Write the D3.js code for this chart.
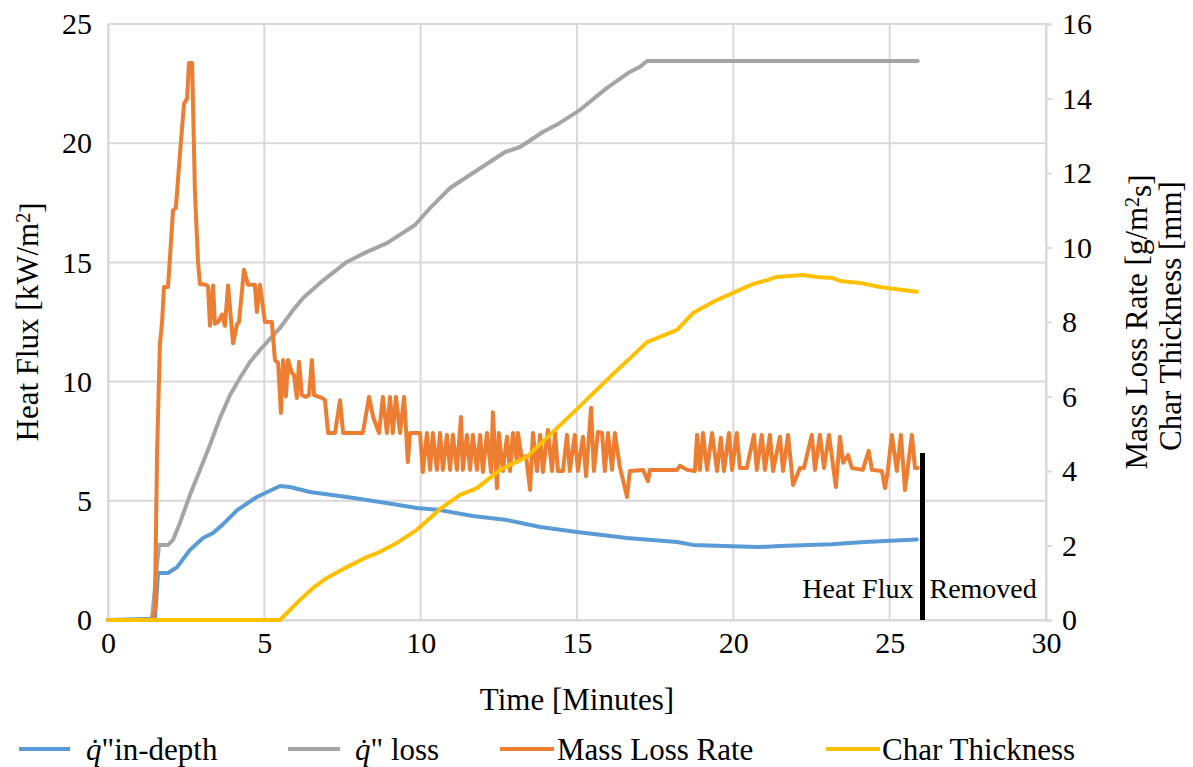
<!DOCTYPE html>
<html>
<head>
<meta charset="utf-8">
<script src="https://cdn.jsdelivr.net/npm/d3@7"></script>
<style>
  body { margin: 0; background: #fff; }
  text { font-family: "Liberation Serif", "Times New Roman", serif; fill: #000; }
</style>
</head>
<body>
<svg id="chart" width="1193" height="767"></svg>
<script>
// Axis ticks
const timeTicks = [0, 5, 10, 15, 20, 25, 30];
const fluxTicks = [0, 5, 10, 15, 20, 25];
const rateTicks = [0, 2, 4, 6, 8, 10, 12, 14, 16];

// Series: [time (min), value]
// In-depth heat flux, kW/m2 (left axis)
const inDepthFlux = [
  [0, 0], [1.50, 0.05], [1.60, 1.97], [1.92, 1.97], [2.21, 2.22], [2.62, 2.94], [3.04, 3.44],
  [3.36, 3.65], [3.65, 3.98], [4.13, 4.61], [4.76, 5.16], [5.50, 5.62], [5.82, 5.58],
  [6.46, 5.37], [7.64, 5.16], [8.70, 4.95], [9.88, 4.70], [10.62, 4.61], [11.67, 4.36],
  [12.76, 4.19], [13.82, 3.90], [15.00, 3.69], [16.60, 3.44], [18.20, 3.27], [18.71, 3.15],
  [20.21, 3.08], [20.80, 3.06], [21.49, 3.10], [23.13, 3.18], [24.20, 3.27], [25.87, 3.38]
];
// Heat flux lost, kW/m2 (left axis)
const lossFlux = [
  [0, 0], [1.40, 0], [1.44, 0.5], [1.63, 3.15], [1.92, 3.15], [2.08, 3.36], [2.30, 4.07],
  [2.62, 5.24], [2.94, 6.29], [3.26, 7.34], [3.58, 8.47], [3.90, 9.43], [4.22, 10.15],
  [4.54, 10.82], [4.86, 11.33], [5.50, 12.25], [5.92, 13.0], [6.24, 13.51], [6.78, 14.14],
  [7.64, 15.02], [8.28, 15.44], [8.92, 15.81], [9.82, 16.57], [10.30, 17.28], [10.94, 18.12],
  [11.67, 18.75], [12.70, 19.63], [13.18, 19.84], [13.91, 20.47], [14.45, 20.85],
  [15.09, 21.39], [15.96, 22.32], [16.69, 22.99], [17.01, 23.20], [17.24, 23.45], [25.90, 23.45]
];
// Mass loss rate, g/m2s (right axis)
const massLossRate = [
  [0, 0], [1.41, 0], [1.50, 0.3], [1.57, 4.5], [1.66, 7.4], [1.73, 8.0], [1.79, 8.94], [1.92, 8.94],
  [2.08, 11.0], [2.17, 11.06], [2.30, 12.5], [2.43, 13.85], [2.53, 14.0], [2.59, 14.95], [2.69, 14.95],
  [2.78, 11.5], [2.88, 9.6], [2.94, 9.02], [3.13, 9.0], [3.20, 8.95], [3.26, 7.9], [3.36, 8.98],
  [3.42, 7.95], [3.52, 8.0], [3.65, 8.2], [3.74, 7.9], [3.84, 8.98], [4.00, 7.43], [4.13, 7.95],
  [4.19, 8.0], [4.35, 9.4], [4.48, 9.0], [4.70, 9.0], [4.76, 8.27], [4.86, 9.0], [5.02, 8.0],
  [5.24, 8.0], [5.34, 6.98], [5.44, 6.9], [5.53, 5.56], [5.60, 6.98], [5.69, 6.0], [5.76, 6.98],
  [5.88, 6.63], [5.95, 6.58], [6.04, 5.96], [6.11, 6.93], [6.20, 6.04], [6.33, 5.99], [6.43, 6.04],
  [6.52, 6.98], [6.59, 6.04], [6.84, 5.96], [6.94, 5.9], [7.04, 5.02], [7.26, 5.02], [7.42, 5.9],
  [7.52, 5.02], [8.15, 5.02], [8.35, 5.99], [8.48, 5.45], [8.67, 5.02], [8.79, 5.99], [8.92, 5.02],
  [9.02, 5.99], [9.11, 5.02], [9.21, 5.99], [9.34, 5.02], [9.47, 5.99], [9.59, 4.24], [9.66, 5.02],
  [9.98, 5.02], [10.07, 3.97], [10.20, 5.02], [10.30, 4.03], [10.39, 5.02], [10.52, 4.03],
  [10.62, 5.02], [10.71, 4.03], [10.84, 4.97], [10.94, 4.03], [11.03, 4.97], [11.16, 4.03],
  [11.29, 5.45], [11.35, 4.03], [11.48, 4.97], [11.58, 4.03], [11.67, 4.97], [11.80, 4.03],
  [11.90, 4.97], [11.99, 3.97], [12.12, 5.02], [12.25, 3.97], [12.31, 5.58], [12.44, 3.54],
  [12.50, 5.02], [12.63, 4.0], [12.76, 4.92], [12.86, 4.0], [12.95, 5.02], [13.08, 4.24],
  [13.11, 5.02], [13.24, 4.32], [13.37, 4.4], [13.50, 3.49], [13.59, 5.02], [13.72, 4.0],
  [13.82, 4.97], [13.91, 3.97], [14.07, 5.1], [14.20, 4.0], [14.30, 5.02], [14.39, 4.0],
  [14.55, 4.0], [14.68, 4.97], [14.77, 4.0], [14.93, 4.97], [15.03, 4.0], [15.19, 4.92],
  [15.29, 3.86], [15.45, 5.7], [15.54, 4.0], [15.67, 5.05], [15.80, 5.02], [15.89, 4.0],
  [15.99, 5.02], [16.12, 4.03], [16.21, 5.02], [16.37, 4.11], [16.60, 3.30], [16.69, 4.0],
  [17.11, 4.03], [17.27, 3.73], [17.33, 4.03], [18.20, 4.03], [18.29, 4.14], [18.52, 4.03],
  [18.77, 4.0], [18.84, 4.97], [18.93, 4.03], [19.03, 5.02], [19.16, 4.03], [19.32, 5.02],
  [19.48, 4.0], [19.60, 4.89], [19.70, 4.0], [19.86, 5.02], [19.96, 4.03], [20.11, 5.02],
  [20.21, 4.08], [20.43, 4.08], [20.66, 4.97], [20.75, 4.03], [20.91, 4.97], [21.01, 4.03],
  [21.17, 4.97], [21.27, 4.0], [21.49, 4.92], [21.59, 4.0], [21.75, 4.97], [21.91, 3.62],
  [22.13, 4.08], [22.26, 4.08], [22.51, 4.97], [22.61, 4.03], [22.77, 4.97], [22.90, 4.08],
  [23.06, 4.97], [23.28, 3.57], [23.41, 4.92], [23.51, 4.22], [23.67, 4.43], [23.79, 4.08],
  [24.14, 4.03], [24.33, 4.54], [24.43, 4.03], [24.75, 4.0], [24.85, 3.54], [24.94, 4.0],
  [25.07, 4.97], [25.23, 4.0], [25.36, 4.97], [25.49, 3.49], [25.71, 4.97], [25.81, 4.08],
  [25.90, 4.08]
];
// Char thickness, mm (right axis)
const charThickness = [
  [0, 0], [5.50, 0], [6.14, 0.54], [6.56, 0.86], [7.00, 1.13], [7.64, 1.42], [8.28, 1.69],
  [8.70, 1.83], [9.24, 2.07], [9.88, 2.42], [10.30, 2.74], [10.62, 2.98], [11.26, 3.36],
  [11.80, 3.54], [12.54, 4.03], [13.40, 4.38], [14.87, 5.56], [16.05, 6.52], [17.24, 7.46],
  [18.20, 7.79], [18.71, 8.24], [19.35, 8.54], [19.99, 8.78], [20.63, 9.02], [21.11, 9.13],
  [21.39, 9.21], [22.23, 9.26], [22.67, 9.21], [23.19, 9.18], [23.41, 9.10], [24.05, 9.05],
  [24.69, 8.94], [25.10, 8.89], [25.87, 8.81]
];

// Moment the external heat flux was switched off
const removalTime = 26.05;
const removalMarkerHeight = 7; // kW/m2, left axis

const colors = { inDepth: "#5B9BD5", loss: "#A5A5A5", rate: "#ED7D31", char: "#FFC000" };

const svg = d3.select("#chart");
const plot = { left: 108, right: 1046, top: 24, bottom: 620 };

const x = d3.scaleLinear().domain([0, 30]).range([plot.left, plot.right]);
const yLeft = d3.scaleLinear().domain([0, 25]).range([plot.bottom, plot.top]);
const yRight = d3.scaleLinear().domain([0, 16]).range([plot.bottom, plot.top]);

const gridColor = "#d9d9d9";

// Gridlines
svg.append("g")
  .selectAll("line")
  .data(fluxTicks)
  .join("line")
  .attr("x1", plot.left).attr("x2", plot.right)
  .attr("y1", d => yLeft(d)).attr("y2", d => yLeft(d))
  .attr("stroke", gridColor).attr("stroke-width", 2);

svg.append("g")
  .selectAll("line")
  .data(timeTicks)
  .join("line")
  .attr("x1", d => x(d)).attr("x2", d => x(d))
  .attr("y1", plot.top).attr("y2", plot.bottom)
  .attr("stroke", gridColor).attr("stroke-width", 2);

// Axes
const tickFont = 30;

const bottomAxis = svg.append("g")
  .attr("transform", `translate(0,${plot.bottom})`)
  .call(d3.axisBottom(x).tickValues(timeTicks).tickSize(0).tickPadding(12));
const leftAxis = svg.append("g")
  .attr("transform", `translate(${plot.left},0)`)
  .call(d3.axisLeft(yLeft).tickValues(fluxTicks).tickSize(0).tickPadding(16));
const rightAxis = svg.append("g")
  .attr("transform", `translate(${plot.right},0)`)
  .call(d3.axisRight(yRight).tickValues(rateTicks).tickSize(6).tickPadding(10));

[bottomAxis, leftAxis, rightAxis].forEach(g => {
  g.select(".domain").attr("stroke", gridColor).attr("stroke-width", 2);
  g.selectAll(".tick line").attr("stroke", gridColor).attr("stroke-width", 2);
  g.selectAll(".tick text")
    .attr("fill", "#000")
    .style("font-family", '"Liberation Serif", "Times New Roman", serif')
    .style("font-size", tickFont + "px");
});

// Series lines
function drawLine(data, yScale, color, width) {
  svg.append("path")
    .datum(data)
    .attr("fill", "none")
    .attr("stroke", color)
    .attr("stroke-width", width)
    .attr("stroke-linejoin", "round")
    .attr("stroke-linecap", "round")
    .attr("d", d3.line().x(d => x(d[0])).y(d => yScale(d[1])));
}
drawLine(inDepthFlux, yLeft, colors.inDepth, 4);
drawLine(lossFlux, yLeft, colors.loss, 4);
drawLine(massLossRate, yRight, colors.rate, 4);
drawLine(charThickness, yRight, colors.char, 4);

// Heat flux removal marker
svg.append("line")
  .attr("x1", x(removalTime)).attr("x2", x(removalTime))
  .attr("y1", yLeft(0)).attr("y2", yLeft(removalMarkerHeight))
  .attr("stroke", "#000").attr("stroke-width", 5);
svg.append("text")
  .attr("x", x(removalTime) - 9).attr("y", 598)
  .attr("text-anchor", "end").style("font-size", "28px")
  .text("Heat Flux");
svg.append("text")
  .attr("x", x(removalTime) + 7).attr("y", 598)
  .attr("text-anchor", "start").style("font-size", "28px")
  .text("Removed");

// Axis titles
const titleFont = 31;
svg.append("text")
  .attr("x", (plot.left + plot.right) / 2).attr("y", 710)
  .attr("text-anchor", "middle").style("font-size", titleFont + "px")
  .text("Time [Minutes]");

const leftTitle = svg.append("text")
  .attr("transform", `translate(27,${(plot.top + plot.bottom) / 2}) rotate(-90)`)
  .attr("text-anchor", "middle").attr("dy", "0.35em")
  .style("font-size", titleFont + "px");
leftTitle.append("tspan").text("Heat Flux [kW/m");
leftTitle.append("tspan").attr("dy", "-0.4em").style("font-size", "20px").text("2");
leftTitle.append("tspan").attr("dy", "0.4em").text("]");

const rightTitle1 = svg.append("text")
  .attr("transform", `translate(1136,${(plot.top + plot.bottom) / 2}) rotate(-90)`)
  .attr("text-anchor", "middle").attr("dy", "0.35em")
  .style("font-size", titleFont + "px");
rightTitle1.append("tspan").text("Mass Loss Rate [g/m");
rightTitle1.append("tspan").attr("dy", "-0.4em").style("font-size", "20px").text("2");
rightTitle1.append("tspan").attr("dy", "0.4em").text("s]");

svg.append("text")
  .attr("transform", `translate(1170,${(plot.top + plot.bottom) / 2 - 6}) rotate(-90)`)
  .attr("text-anchor", "middle").attr("dy", "0.35em")
  .style("font-size", titleFont + "px")
  .text("Char Thickness [mm]");

// Legend
const legendY = 749;
const legendFont = 31;
const legendItems = [
  { key: "inDepth", x0: 19, x1: 70, tx: 86, label: "in-depth", dotted: true },
  { key: "loss", x0: 288, x1: 340, tx: 355, label: " loss", dotted: true },
  { key: "rate", x0: 500, x1: 554, tx: 557, label: "Mass Loss Rate", dotted: false },
  { key: "char", x0: 826, x1: 880, tx: 882, label: "Char Thickness", dotted: false }
];
const legend = svg.append("g");
legendItems.forEach(item => {
  legend.append("line")
    .attr("x1", item.x0).attr("x2", item.x1)
    .attr("y1", legendY).attr("y2", legendY)
    .attr("stroke", colors[item.key]).attr("stroke-width", 4);
  const t = legend.append("text")
    .attr("x", item.tx).attr("y", legendY + 11)
    .style("font-size", legendFont + "px");
  if (item.dotted) {
    t.append("tspan").style("font-style", "italic").text("q\u0307");
    t.append("tspan").text("\"");
  }
  t.append("tspan").text(item.label);
});
</script>
</body>
</html>
